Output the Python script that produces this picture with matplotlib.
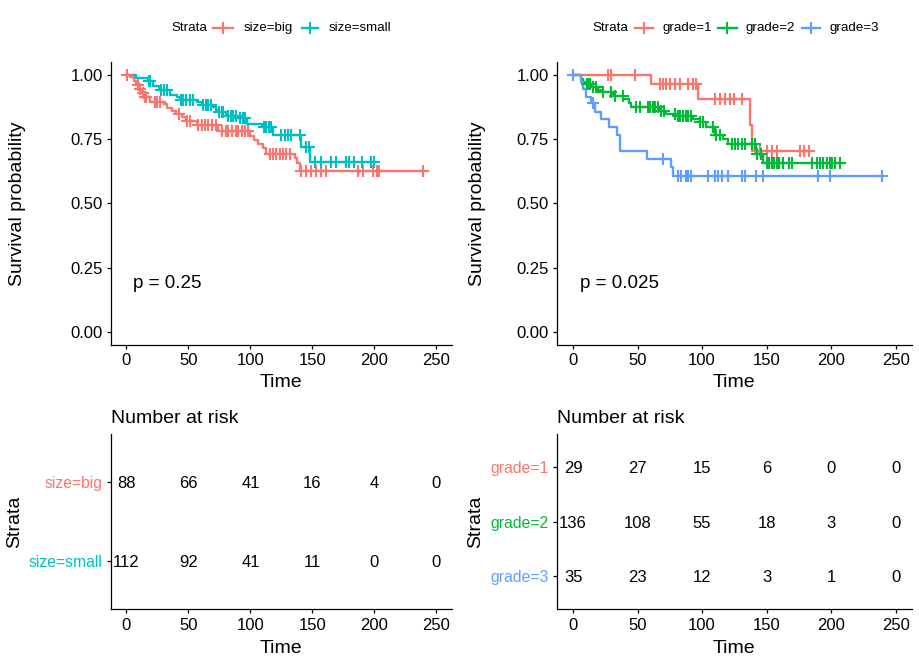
import numpy as np
import matplotlib.pyplot as plt
from matplotlib.lines import Line2D

plt.rcParams['font.family'] = ['Liberation Sans', 'DejaVu Sans']

# ---- data ----
# left panel: tumour size
size_labels = ['size=big', 'size=small']
size_colors = ['#F8766D', '#00BFC4']
big_t = [3, 6, 8, 10, 12, 14, 19, 30, 33, 37, 40, 45, 48, 57, 74, 100, 103, 106, 110, 113, 136, 138, 140]
big_s = [0.99, 0.975, 0.96, 0.945, 0.93, 0.912, 0.895, 0.884, 0.872, 0.86, 0.848, 0.835, 0.821, 0.805,
         0.779, 0.762, 0.745, 0.73, 0.715, 0.693, 0.675, 0.655, 0.625]
big_cens = [0.5, 9, 11, 13, 15, 16, 23, 25, 27, 42, 49, 51, 58, 61, 63, 66, 69, 72, 77, 80, 82, 85, 88, 90,
            93, 96, 98, 116, 118, 121, 124, 126, 129, 132, 141, 145, 149, 153, 157, 161, 187, 191, 199,
            202, 204, 239]
small_t = [8, 17, 21, 26, 35, 41, 43, 57, 61, 70, 72, 74, 80, 90, 97, 109, 118, 141, 148.5]
small_s = [0.987, 0.977, 0.957, 0.94, 0.922, 0.912, 0.902, 0.895, 0.883, 0.873, 0.862, 0.853, 0.84,
           0.83, 0.81, 0.795, 0.766, 0.72, 0.662]
small_cens = [18, 19, 28, 30, 33, 44, 46, 48, 51, 54, 62, 64, 66, 68, 75, 77, 78, 82, 84, 86, 88, 92, 94,
              96, 111, 113, 115, 117, 125, 128, 130, 133, 140, 145, 147, 152, 157, 165, 169, 177, 180,
              184, 190, 197, 200]
size_risk = [[88, 66, 41, 16, 4, 0], [112, 92, 41, 11, 0, 0]]
size_p = 'p = 0.25'

# right panel: grade
grade_labels = ['grade=1', 'grade=2', 'grade=3']
grade_colors = ['#F8766D', '#00BA38', '#619CFF']
g1_t = [60, 97, 137, 139]
g1_s = [0.962, 0.906, 0.805, 0.705]
g1_cens = [27, 29, 48, 67, 70, 72, 75, 79, 83, 89, 93, 95, 110, 114, 118, 122, 125, 131, 145, 150, 154,
           158, 176, 179, 183]
g2_t = [6, 8, 10, 14, 19, 23, 31, 39, 43, 45, 67, 72, 79, 93, 98, 103, 110, 116, 120, 142, 147]
g2_s = [0.983, 0.972, 0.962, 0.951, 0.94, 0.931, 0.918, 0.905, 0.89, 0.875, 0.859, 0.846, 0.838, 0.827,
        0.815, 0.795, 0.765, 0.748, 0.729, 0.69, 0.658]
g2_cens = [10.5, 11.4, 12.7, 15.3, 17.9, 23.5, 29.5, 32.1, 38.6, 49, 51.5, 58, 59.8, 61.8, 63.6, 65.8,
           68.4, 70.2, 78.8, 81.4, 83.2, 85.3, 87.3, 89.1, 91.2, 98.5, 100.6, 108.6, 110.6, 113.8, 122.9,
           125.5, 128, 130.6, 133, 138.4, 141, 142.8, 146, 150, 152, 154, 156, 158, 160, 163, 167, 170,
           185, 189, 191.5, 194, 197, 199, 201, 203, 207]
g3_t = [6, 7.5, 9.6, 14, 16.6, 21.8, 28.2, 33.9, 36.5, 57.3, 75.7, 77.5]
g3_s = [0.971, 0.943, 0.914, 0.888, 0.853, 0.827, 0.797, 0.766, 0.703, 0.673, 0.64, 0.608]
g3_cens = [0, 15.3, 69.7, 81.4, 84, 87.9, 89.1, 91.7, 104.7, 110, 112.5, 115.1, 120.2, 131, 133.2, 142,
           147.4, 190.2, 199.3, 239.5]
grade_risk = [[29, 27, 15, 6, 0, 0], [136, 108, 55, 18, 3, 0], [35, 23, 12, 3, 1, 0]]
grade_p = 'p = 0.025'

risk_times = [0, 50, 100, 150, 200, 250]

W, H = 920, 664
fig = plt.figure(figsize=(W / 100, H / 100), dpi=100)

TICK_FS = 12
TITLE_FS = 14
LW = 1.7


def px_axes(x0, y0, x1, y1):
    return fig.add_axes([x0 / W, 1 - y1 / H, (x1 - x0) / W, (y1 - y0) / H])


def style(ax):
    for s in ['top', 'right']:
        ax.spines[s].set_visible(False)
    for s in ['left', 'bottom']:
        ax.spines[s].set_linewidth(0.9)
    ax.tick_params(direction='out', length=3, width=0.9, labelsize=TICK_FS, colors='black', pad=3)
    ax.set_xlim(-12.5, 262.5)
    ax.set_xticks(risk_times)


def km(ax, t, s, cens, color):
    t = np.asarray(t, float)
    s = np.asarray(s, float)
    cens = np.asarray(cens, float)
    tmax = max(t.max(), cens.max())
    x = np.concatenate([[0], t, [tmax]])
    y = np.concatenate([[1], s, [s[-1]]])
    ax.step(x, y, where='post', color=color, lw=LW, zorder=3)
    sc = np.concatenate([[1], s])[np.searchsorted(t, cens, side='right')]
    ax.plot(cens, sc, ls='none', marker='+', ms=9, mew=1.5, color=color, zorder=4)


def surv_panel(ax, curves, colors, ptext, ylab_x):
    style(ax)
    for (t, s, c), col in zip(curves, colors):
        km(ax, t, s, c, col)
    ax.set_ylim(-0.05, 1.05)
    ax.set_yticks([0, 0.25, 0.5, 0.75, 1.0])
    ax.set_yticklabels(['0.00', '0.25', '0.50', '0.75', '1.00'])
    ax.text(5, 0.17, ptext, fontsize=13.5, ha='left', va='baseline')
    bb = ax.get_position()
    fig.text(ylab_x / W, 1 - 203.3 / H, 'Survival probability', rotation=90, fontsize=TITLE_FS,
             ha='center', va='center')
    fig.text((bb.x0 + bb.x1) / 2, 1 - 386.7 / H, 'Time', fontsize=TITLE_FS, ha='center', va='baseline')


def risk_panel(ax, risk, labels, colors, ylab_x):
    style(ax)
    n = len(labels)
    ys = np.arange(1, n + 1)
    for row, yv in zip(risk, ys):
        for tv, nv in zip(risk_times, row):
            ax.text(tv, yv, str(nv), fontsize=TICK_FS, ha='center', va='center_baseline')
    ax.set_ylim(n + 0.6, 0.4)
    ax.set_yticks(ys)
    ax.set_yticklabels(labels)
    for lab, col in zip(ax.get_yticklabels(), colors):
        lab.set_color(col)
        lab.set_fontsize(11.3)
    ax.text(0, 1 + (434 - 422.7) / 175.3, 'Number at risk', transform=ax.transAxes, fontsize=TITLE_FS,
            ha='left', va='baseline')
    bb = ax.get_position()
    fig.text(ylab_x / W, 1 - 521.7 / H, 'Strata', rotation=90, fontsize=TITLE_FS, ha='center', va='center')
    fig.text((bb.x0 + bb.x1) / 2, 1 - 652.7 / H, 'Time', fontsize=TITLE_FS, ha='center', va='baseline')


def legend(x_title, keys, label_x, labels, colors):
    yf = 1 - 28.3 / H
    fig.text(x_title / W, yf, 'Strata', fontsize=9.6, ha='left', va='center')
    for (xa, xb), xl, lab, col in zip(keys, label_x, labels, colors):
        fig.add_artist(Line2D([xa / W, xb / W], [yf, yf], color=col, lw=LW))
        fig.add_artist(Line2D([(xa + xb) / 2 / W], [yf], marker='+', ms=9, mew=1.5, color=col, ls='none'))
        fig.text(xl / W, yf, lab, fontsize=9.6, ha='left', va='center')


ax1 = px_axes(111, 61.7, 451.7, 345)
ax2 = px_axes(557, 61.7, 911.7, 345)
ax3 = px_axes(111, 434, 451.7, 609.3)
ax4 = px_axes(557, 434, 911.7, 609.3)

surv_panel(ax1, [(big_t, big_s, big_cens), (small_t, small_s, small_cens)], size_colors, size_p, 18)
surv_panel(ax2, [(g1_t, g1_s, g1_cens), (g2_t, g2_s, g2_cens), (g3_t, g3_s, g3_cens)],
           grade_colors, grade_p, 478)
risk_panel(ax3, size_risk, size_labels, size_colors, 15)
risk_panel(ax4, grade_risk, grade_labels, grade_colors, 476)

legend(171.7, [(213, 233), (301.7, 318)], [243.3, 328.3], size_labels, size_colors)
legend(592.7, [(635, 653), (718, 737), (801.7, 820)], [662.7, 746, 830], grade_labels, grade_colors)

fig.savefig('out.png', dpi=100)
